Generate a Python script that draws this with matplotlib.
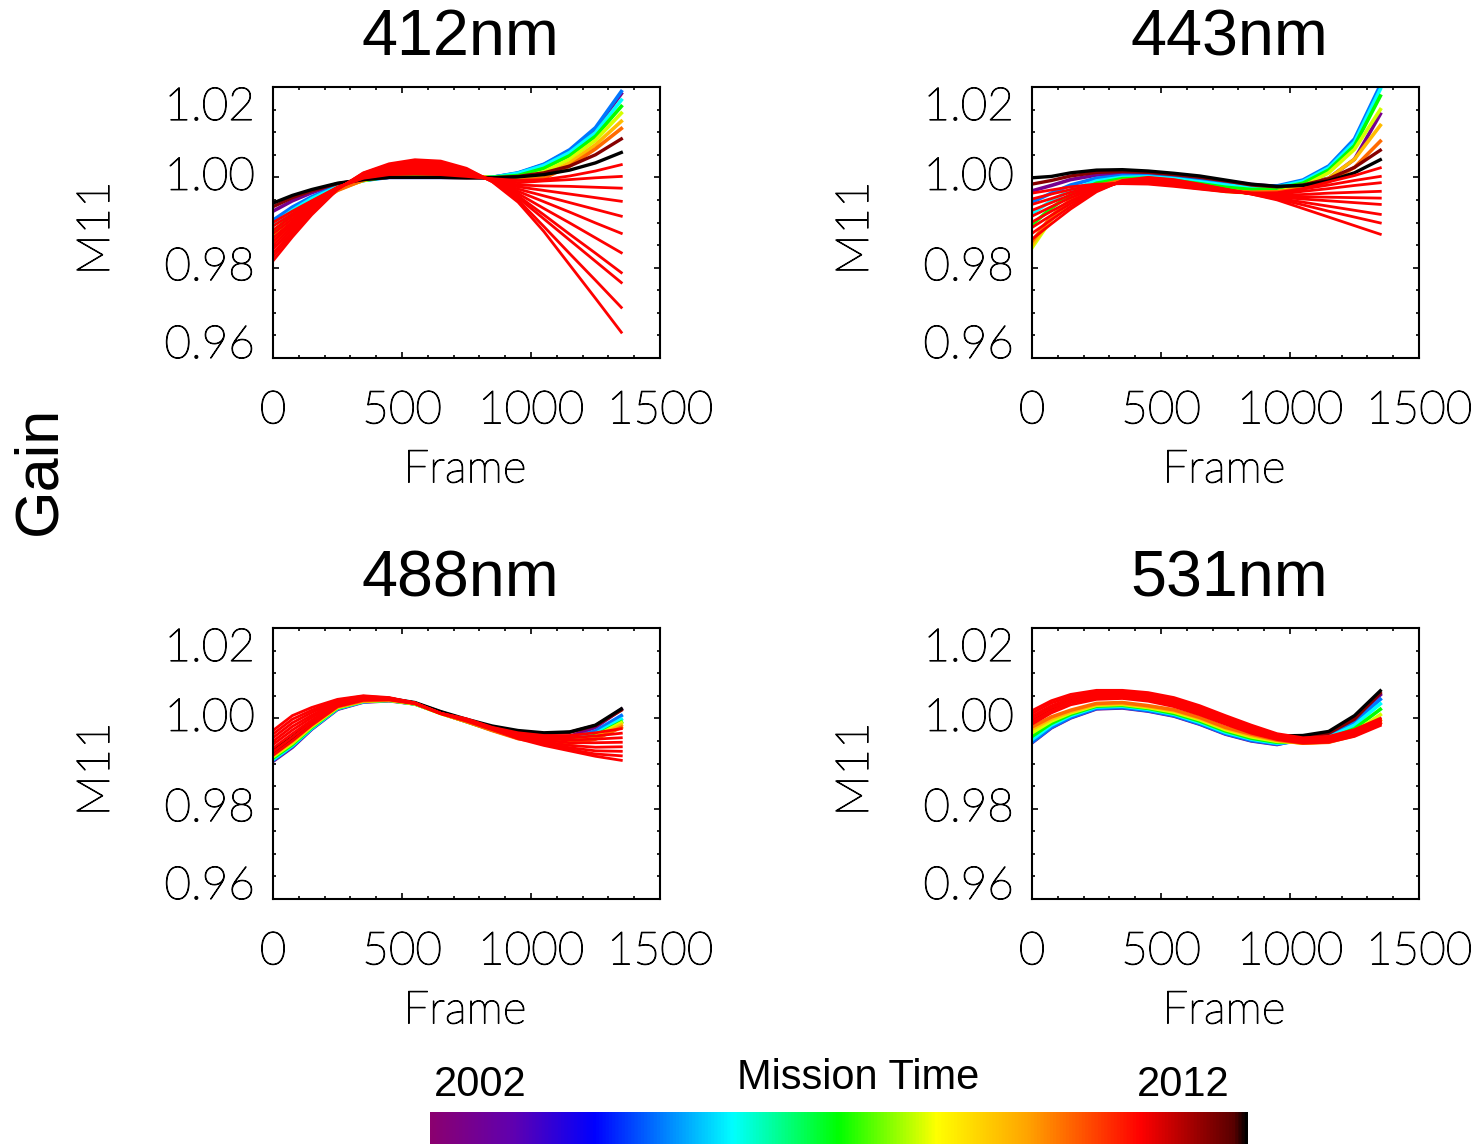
import matplotlib
matplotlib.use("Agg")
import matplotlib.pyplot as plt
import matplotlib.patheffects as pe
import numpy as np
from matplotlib.colors import LinearSegmentedColormap
from matplotlib.ticker import MultipleLocator
from matplotlib.transforms import blended_transform_factory

frames = [0, 75, 150, 250, 350, 450, 550, 650, 750, 850, 950, 1050, 1150, 1250, 1350]

# colour position (mission time fraction) of each curve group
early_times = [0.05, 0.28, 0.37, 0.5, 0.6, 0.7, 0.78]
dark_times = [0.95, 1.0]
red_time = 0.87

# ---- 412nm ----
gain_412_early = [
    [0.9925, 0.9948, 0.9966, 0.9985, 0.9995, 1.0000, 1.0000, 1.0000, 1.0000, 1.0000, 1.0009, 1.0028, 1.0059, 1.0107, 1.0185],
    [0.9905, 0.9934, 0.9957, 0.9981, 0.9993, 1.0000, 1.0000, 1.0000, 1.0000, 1.0000, 1.0010, 1.0029, 1.0061, 1.0110, 1.0190],
    [0.9895, 0.9927, 0.9953, 0.9979, 0.9993, 1.0001, 1.0001, 1.0001, 1.0001, 1.0000, 1.0009, 1.0026, 1.0055, 1.0099, 1.0171],
    [0.9880, 0.9916, 0.9946, 0.9976, 0.9993, 1.0002, 1.0003, 1.0003, 1.0002, 1.0000, 1.0004, 1.0020, 1.0048, 1.0091, 1.0157],
    [0.9870, 0.9909, 0.9942, 0.9974, 0.9993, 1.0005, 1.0006, 1.0005, 1.0003, 0.9999, 0.9998, 1.0012, 1.0040, 1.0082, 1.0142],
    [0.9860, 0.9902, 0.9937, 0.9972, 0.9994, 1.0007, 1.0009, 1.0008, 1.0005, 0.9998, 0.9995, 1.0004, 1.0032, 1.0072, 1.0124],
    [0.9855, 0.9899, 0.9935, 0.9971, 0.9994, 1.0009, 1.0011, 1.0010, 1.0006, 0.9997, 0.9993, 0.9998, 1.0025, 1.0063, 1.0108],
]
gain_412_dark = [
    [0.9935, 0.9955, 0.9970, 0.9986, 0.9995, 1.0000, 1.0000, 1.0000, 0.9999, 0.9999, 1.0002, 1.0010, 1.0025, 1.0050, 1.0085],
    [0.9943, 0.9960, 0.9973, 0.9987, 0.9995, 1.0000, 1.0000, 1.0000, 0.9999, 0.9999, 1.0001, 1.0006, 1.0016, 1.0032, 1.0055],
]
gain_412_red = [
    [0.9900, 0.9925, 0.9948, 0.9978, 0.9998, 1.0006, 1.0008, 1.0006, 1.0002, 0.9997, 0.9993, 0.9995, 1.0003, 1.0014, 1.0028],
    [0.9892, 0.9919, 0.9945, 0.9978, 0.9999, 1.0008, 1.0011, 1.0009, 1.0004, 0.9996, 0.9988, 0.9992, 0.9995, 0.9999, 1.0002],
    [0.9883, 0.9914, 0.9942, 0.9977, 1.0000, 1.0011, 1.0014, 1.0012, 1.0006, 0.9996, 0.9983, 0.9981, 0.9980, 0.9978, 0.9976],
    [0.9875, 0.9908, 0.9939, 0.9977, 1.0002, 1.0013, 1.0017, 1.0015, 1.0007, 0.9995, 0.9979, 0.9971, 0.9963, 0.9955, 0.9947],
    [0.9866, 0.9902, 0.9936, 0.9976, 1.0003, 1.0016, 1.0020, 1.0018, 1.0009, 0.9994, 0.9974, 0.9959, 0.9944, 0.9929, 0.9914],
    [0.9858, 0.9897, 0.9933, 0.9976, 1.0004, 1.0018, 1.0024, 1.0021, 1.0011, 0.9994, 0.9969, 0.9946, 0.9923, 0.9899, 0.9876],
    [0.9849, 0.9891, 0.9929, 0.9975, 1.0005, 1.0020, 1.0027, 1.0024, 1.0013, 0.9993, 0.9964, 0.9931, 0.9899, 0.9866, 0.9833],
    [0.9841, 0.9885, 0.9926, 0.9975, 1.0006, 1.0023, 1.0030, 1.0027, 1.0015, 0.9992, 0.9959, 0.9917, 0.9874, 0.9832, 0.9789],
    [0.9832, 0.9879, 0.9923, 0.9974, 1.0008, 1.0025, 1.0033, 1.0030, 1.0016, 0.9991, 0.9955, 0.9908, 0.9861, 0.9814, 0.9767],
    [0.9824, 0.9874, 0.9920, 0.9974, 1.0009, 1.0028, 1.0036, 1.0033, 1.0018, 0.9991, 0.9950, 0.9891, 0.9831, 0.9772, 0.9712],
    [0.9815, 0.9868, 0.9917, 0.9973, 1.0010, 1.0030, 1.0039, 1.0036, 1.0020, 0.9990, 0.9945, 0.9880, 0.9806, 0.9732, 0.9657],
]

# ---- 443nm ----
gain_443_early = [
    [0.9970, 0.9982, 0.9995, 1.0005, 1.0009, 1.0008, 1.0004, 0.9998, 0.9991, 0.9984, 0.9980, 0.9985, 0.9998, 1.0040, 1.0140],
    [0.9945, 0.9965, 0.9983, 0.9998, 1.0004, 1.0004, 1.0000, 0.9994, 0.9986, 0.9981, 0.9981, 0.9994, 1.0025, 1.0085, 1.0204],
    [0.9920, 0.9948, 0.9972, 0.9992, 1.0000, 1.0001, 0.9997, 0.9990, 0.9983, 0.9978, 0.9979, 0.9991, 1.0021, 1.0078, 1.0195],
    [0.9895, 0.9932, 0.9962, 0.9987, 0.9997, 0.9998, 0.9993, 0.9986, 0.9978, 0.9973, 0.9975, 0.9987, 1.0016, 1.0070, 1.0180],
    [0.9844, 0.9907, 0.9947, 0.9979, 0.9991, 0.9992, 0.9985, 0.9977, 0.9969, 0.9965, 0.9968, 0.9980, 1.0010, 1.0062, 1.0150],
    [0.9850, 0.9910, 0.9949, 0.9980, 0.9992, 0.9993, 0.9986, 0.9978, 0.9970, 0.9966, 0.9968, 0.9977, 0.9998, 1.0040, 1.0115],
    [0.9858, 0.9914, 0.9951, 0.9981, 0.9993, 0.9994, 0.9987, 0.9979, 0.9971, 0.9967, 0.9968, 0.9974, 0.9990, 1.0022, 1.0080],
]
gain_443_dark = [
    [0.9985, 0.9993, 1.0003, 1.0011, 1.0013, 1.0011, 1.0006, 1.0000, 0.9992, 0.9983, 0.9979, 0.9983, 0.9997, 1.0022, 1.0060],
    [0.9999, 1.0002, 1.0010, 1.0016, 1.0017, 1.0014, 1.0009, 1.0003, 0.9994, 0.9985, 0.9980, 0.9982, 0.9992, 1.0010, 1.0039],
]
gain_443_red = [
    [0.9965, 0.9972, 0.9979, 0.9985, 0.9986, 0.9985, 0.9980, 0.9974, 0.9968, 0.9965, 0.9966, 0.9975, 0.9990, 1.0004, 1.0021],
    [0.9952, 0.9963, 0.9973, 0.9983, 0.9987, 0.9987, 0.9982, 0.9975, 0.9969, 0.9965, 0.9964, 0.9974, 0.9983, 0.9993, 1.0002],
    [0.9940, 0.9953, 0.9967, 0.9981, 0.9988, 0.9989, 0.9984, 0.9977, 0.9970, 0.9965, 0.9962, 0.9969, 0.9975, 0.9982, 0.9988],
    [0.9927, 0.9944, 0.9961, 0.9979, 0.9989, 0.9991, 0.9986, 0.9978, 0.9970, 0.9964, 0.9960, 0.9962, 0.9965, 0.9967, 0.9969],
    [0.9914, 0.9935, 0.9955, 0.9977, 0.9990, 0.9993, 0.9988, 0.9980, 0.9971, 0.9964, 0.9958, 0.9957, 0.9956, 0.9955, 0.9954],
    [0.9901, 0.9925, 0.9948, 0.9974, 0.9990, 0.9994, 0.9989, 0.9981, 0.9972, 0.9964, 0.9956, 0.9952, 0.9948, 0.9944, 0.9940],
    [0.9889, 0.9916, 0.9942, 0.9972, 0.9991, 0.9996, 0.9991, 0.9982, 0.9973, 0.9964, 0.9954, 0.9945, 0.9936, 0.9927, 0.9918],
    [0.9876, 0.9906, 0.9936, 0.9970, 0.9992, 0.9998, 0.9993, 0.9984, 0.9973, 0.9963, 0.9952, 0.9939, 0.9925, 0.9912, 0.9899],
    [0.9863, 0.9897, 0.9930, 0.9968, 0.9993, 1.0000, 0.9995, 0.9985, 0.9974, 0.9963, 0.9950, 0.9931, 0.9912, 0.9893, 0.9874],
]

# ---- 488nm ----
gain_488_early = [
    [0.9905, 0.9936, 0.9976, 1.0020, 1.0036, 1.0039, 1.0032, 1.0012, 0.9993, 0.9975, 0.9960, 0.9955, 0.9960, 0.9980, 1.0020],
    [0.9907, 0.9938, 0.9977, 1.0021, 1.0037, 1.0040, 1.0032, 1.0012, 0.9993, 0.9975, 0.9960, 0.9953, 0.9955, 0.9972, 1.0006],
    [0.9909, 0.9940, 0.9978, 1.0022, 1.0037, 1.0040, 1.0032, 1.0012, 0.9993, 0.9974, 0.9959, 0.9951, 0.9952, 0.9966, 0.9998],
    [0.9912, 0.9942, 0.9980, 1.0023, 1.0038, 1.0040, 1.0032, 1.0011, 0.9993, 0.9974, 0.9958, 0.9950, 0.9950, 0.9962, 0.9992],
    [0.9915, 0.9945, 0.9982, 1.0024, 1.0038, 1.0040, 1.0032, 1.0011, 0.9993, 0.9974, 0.9957, 0.9948, 0.9948, 0.9960, 0.9990],
    [0.9918, 0.9948, 0.9984, 1.0025, 1.0039, 1.0041, 1.0033, 1.0011, 0.9993, 0.9974, 0.9956, 0.9947, 0.9946, 0.9957, 0.9985],
    [0.9921, 0.9951, 0.9986, 1.0026, 1.0039, 1.0041, 1.0033, 1.0011, 0.9993, 0.9973, 0.9955, 0.9946, 0.9944, 0.9954, 0.9980],
]
gain_488_dark = [
    [0.9925, 0.9955, 0.9990, 1.0030, 1.0043, 1.0043, 1.0034, 1.0014, 0.9996, 0.9980, 0.9970, 0.9966, 0.9969, 0.9984, 1.0018],
    [0.9930, 0.9958, 0.9992, 1.0031, 1.0044, 1.0044, 1.0035, 1.0015, 0.9998, 0.9983, 0.9973, 0.9968, 0.9970, 0.9985, 1.0021],
]
gain_488_red = [
    [0.9973, 1.0006, 1.0024, 1.0042, 1.0050, 1.0046, 1.0034, 1.0011, 0.9999, 0.9980, 0.9968, 0.9962, 0.9962, 0.9968, 0.9977],
    [0.9965, 0.9998, 1.0018, 1.0040, 1.0049, 1.0045, 1.0034, 1.0011, 0.9998, 0.9979, 0.9966, 0.9958, 0.9957, 0.9961, 0.9967],
    [0.9957, 0.9990, 1.0013, 1.0037, 1.0047, 1.0045, 1.0034, 1.0011, 0.9998, 0.9978, 0.9964, 0.9955, 0.9952, 0.9954, 0.9957],
    [0.9949, 0.9982, 1.0007, 1.0035, 1.0046, 1.0044, 1.0034, 1.0011, 0.9997, 0.9978, 0.9962, 0.9952, 0.9946, 0.9946, 0.9947],
    [0.9942, 0.9974, 1.0002, 1.0033, 1.0044, 1.0043, 1.0033, 1.0011, 0.9996, 0.9977, 0.9960, 0.9948, 0.9940, 0.9936, 0.9937],
    [0.9934, 0.9966, 0.9996, 1.0031, 1.0043, 1.0042, 1.0033, 1.0011, 0.9995, 0.9976, 0.9958, 0.9945, 0.9935, 0.9928, 0.9927],
    [0.9926, 0.9958, 0.9991, 1.0028, 1.0041, 1.0042, 1.0033, 1.0011, 0.9995, 0.9976, 0.9957, 0.9943, 0.9931, 0.9921, 0.9917],
    [0.9918, 0.9950, 0.9985, 1.0026, 1.0040, 1.0041, 1.0033, 1.0011, 0.9994, 0.9975, 0.9955, 0.9940, 0.9928, 0.9916, 0.9907],
]

# ---- 531nm ----
gain_531_early = [
    [0.9946, 0.9979, 1.0001, 1.0021, 1.0023, 1.0016, 1.0005, 0.9987, 0.9965, 0.9950, 0.9942, 0.9955, 0.9968, 1.0000, 1.0052],
    [0.9947, 0.9980, 1.0002, 1.0022, 1.0024, 1.0017, 1.0006, 0.9988, 0.9966, 0.9951, 0.9943, 0.9952, 0.9963, 0.9992, 1.0042],
    [0.9953, 0.9985, 1.0006, 1.0025, 1.0027, 1.0020, 1.0009, 0.9991, 0.9969, 0.9954, 0.9945, 0.9950, 0.9958, 0.9985, 1.0032],
    [0.9960, 0.9989, 1.0009, 1.0027, 1.0029, 1.0022, 1.0011, 0.9994, 0.9972, 0.9956, 0.9947, 0.9948, 0.9954, 0.9977, 1.0020],
    [0.9968, 0.9994, 1.0012, 1.0029, 1.0031, 1.0024, 1.0014, 0.9997, 0.9975, 0.9959, 0.9949, 0.9946, 0.9950, 0.9970, 1.0008],
    [0.9976, 0.9999, 1.0015, 1.0031, 1.0033, 1.0026, 1.0017, 1.0000, 0.9978, 0.9962, 0.9951, 0.9945, 0.9948, 0.9965, 0.9996],
    [0.9981, 1.0003, 1.0018, 1.0033, 1.0035, 1.0028, 1.0019, 1.0002, 0.9980, 0.9965, 0.9952, 0.9945, 0.9947, 0.9962, 0.9990],
]
gain_531_dark = [
    [0.9992, 1.0020, 1.0038, 1.0050, 1.0052, 1.0046, 1.0034, 1.0015, 0.9993, 0.9972, 0.9958, 0.9957, 0.9967, 0.9998, 1.0056],
    [0.9998, 1.0025, 1.0043, 1.0054, 1.0055, 1.0049, 1.0037, 1.0018, 0.9996, 0.9975, 0.9961, 0.9962, 0.9971, 1.0006, 1.0061],
]
gain_531_red = [
    [1.0017, 1.0039, 1.0053, 1.0062, 1.0062, 1.0057, 1.0046, 1.0028, 1.0006, 0.9985, 0.9966, 0.9957, 0.9960, 0.9975, 1.0000],
    [1.0011, 1.0034, 1.0048, 1.0058, 1.0058, 1.0053, 1.0042, 1.0024, 1.0002, 0.9981, 0.9963, 0.9955, 0.9957, 0.9972, 0.9997],
    [1.0005, 1.0028, 1.0044, 1.0054, 1.0055, 1.0049, 1.0038, 1.0020, 0.9998, 0.9978, 0.9961, 0.9952, 0.9955, 0.9969, 0.9994],
    [0.9999, 1.0023, 1.0039, 1.0050, 1.0051, 1.0046, 1.0034, 1.0016, 0.9995, 0.9974, 0.9958, 0.9950, 0.9952, 0.9966, 0.9990],
    [0.9993, 1.0017, 1.0035, 1.0046, 1.0048, 1.0042, 1.0030, 1.0012, 0.9991, 0.9971, 0.9956, 0.9947, 0.9950, 0.9963, 0.9987],
    [0.9987, 1.0012, 1.0030, 1.0042, 1.0044, 1.0038, 1.0026, 1.0008, 0.9987, 0.9967, 0.9953, 0.9945, 0.9947, 0.9960, 0.9984],
]

titles = ["412nm", "443nm", "488nm", "531nm"]
xtick_vals = [0, 500, 1000, 1500]
ytick_vals = [0.96, 0.98, 1.00, 1.02]

# mission time colour table (purple -> blue -> cyan -> green -> yellow -> red -> black)
cmap_pos = [0.0, 0.1, 0.2, 0.37, 0.5, 0.62, 0.73, 0.87, 0.985, 1.0]
cmap_cols = ["#8b0070", "#6000b0", "#0000ff", "#00ffff", "#00ff00",
             "#ffff00", "#ffa500", "#ff0000", "#580000", "#000000"]
mission_cmap = LinearSegmentedColormap.from_list("mission", list(zip(cmap_pos, cmap_cols)))

W, H = 1484, 1144
fig = plt.figure(figsize=(W / 100, H / 100), dpi=100)

# thin plotter-style lettering for the axis text
tick_font = dict(family="Lato", fontweight="light", fontsize=33, color="black",
                 path_effects=[pe.withStroke(linewidth=0.8, foreground="black")])


def panel_axes(x0, y_top):
    return fig.add_axes([x0 / W, (H - y_top - 271) / H, 387 / W, 271 / H])


def draw_panel(ax, title, title_x, early, dark, red):
    for t, row in zip(early_times, early):
        ax.plot(frames, row, color=mission_cmap(t), lw=2.6, solid_joinstyle="round")
    for t, row in zip(dark_times, dark):
        ax.plot(frames, row, color=mission_cmap(t), lw=2.4, solid_joinstyle="round")
    for row in red:
        ax.plot(frames, row, color=mission_cmap(red_time), lw=2.0, solid_joinstyle="round")

    ax.set_xlim(0, 1500)
    ax.set_ylim(0.96, 1.02)
    ax.set_xticks(xtick_vals)
    ax.set_yticks(ytick_vals)
    ax.xaxis.set_minor_locator(MultipleLocator(100))
    ax.yaxis.set_minor_locator(MultipleLocator(0.005))
    ax.tick_params(which="both", direction="in", top=True, right=True,
                   labelbottom=False, labelleft=False, width=1.2, color="black")
    ax.tick_params(which="major", length=4)
    ax.tick_params(which="minor", length=2)
    for sp in ax.spines.values():
        sp.set_linewidth(1.5)

    tx = blended_transform_factory(ax.transData, ax.transAxes)
    for v in xtick_vals:
        ax.text(v, -0.195, str(v), transform=tx, ha="center", va="center", **tick_font)
    ty = blended_transform_factory(ax.transAxes, ax.transData)
    for v, va in zip(ytick_vals, ["baseline", "center", "center", "top"]):
        ax.text(-0.047, v, f"{v:.2f}", transform=ty, ha="right", va=va, **tick_font)
    ax.text(0.496, -0.413, "Frame", transform=ax.transAxes, ha="center", va="center", **tick_font)
    ax.text(-0.456, 0.478, "M11", transform=ax.transAxes, ha="center", va="center",
            rotation=90, **tick_font)
    ax.text(title_x, 1.18, title, transform=ax.transAxes, ha="center", va="center",
            family="Liberation Sans", fontsize=46.5, color="black")


ax1 = panel_axes(273, 87)
ax2 = panel_axes(1032, 87)
ax3 = panel_axes(273, 628)
ax4 = panel_axes(1032, 628)

draw_panel(ax1, titles[0], 0.483, gain_412_early, gain_412_dark, gain_412_red)
draw_panel(ax2, titles[1], 0.509, gain_443_early, gain_443_dark, gain_443_red)
draw_panel(ax3, titles[2], 0.483, gain_488_early, gain_488_dark, gain_488_red)
draw_panel(ax4, titles[3], 0.509, gain_531_early, gain_531_dark, gain_531_red)

fig.text(40 / W, 1 - 470 / H, "Gain", rotation=90, ha="center", va="center",
         family="Liberation Sans", fontsize=44)

# colour bar for mission time
cax = fig.add_axes([430 / W, 0, 818 / W, 32 / H])
cax.imshow(np.linspace(0, 1, 512)[None, :], aspect="auto", cmap=mission_cmap)
cax.set_axis_off()

fig.text(480 / W, 1 - 1085 / H, "2002", ha="center", va="center", family="Liberation Sans", fontsize=30)
fig.text(858 / W, 1 - 1078 / H, "Mission Time", ha="center", va="center", family="Liberation Sans", fontsize=30)
fig.text(1183 / W, 1 - 1085 / H, "2012", ha="center", va="center", family="Liberation Sans", fontsize=30)

fig.savefig("out.png", dpi=100, facecolor="white")
